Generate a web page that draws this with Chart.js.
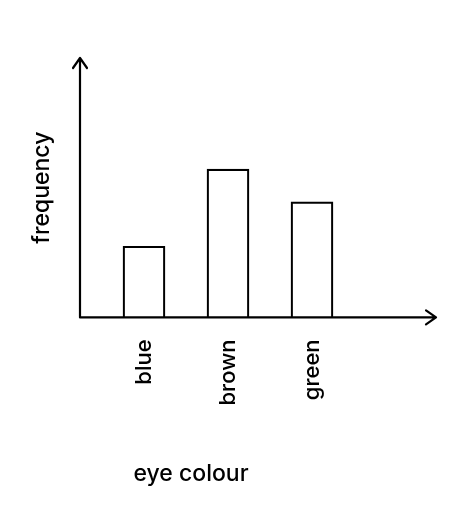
<!DOCTYPE html>
<html><head><meta charset="utf-8">
<script src="https://cdn.jsdelivr.net/npm/chart.js@4"></script>
<style>html,body{margin:0;padding:0;background:#fff}#w{width:474px;height:508px}</style>
</head><body><div id="w"><canvas id="c"></canvas></div>
<script>
const categories = ["blue", "brown", "green"];
const frequencies = [4.8, 10, 7.8];
const yMax = 17.5;

const arrows = {
  id: 'arrows',
  afterDraw(chart) {
    const ctx = chart.ctx, a = chart.chartArea;
    const x0 = a.left - 22, y0 = a.bottom, xEnd = a.right + 82, yTop = a.top;
    ctx.save();
    ctx.strokeStyle = '#000'; ctx.lineWidth = 2.2; ctx.lineCap = 'round'; ctx.lineJoin = 'round';
    ctx.beginPath();
    ctx.moveTo(x0, yTop); ctx.lineTo(x0, y0); ctx.lineTo(xEnd, y0);
    ctx.moveTo(x0 - 7, yTop + 10); ctx.lineTo(x0, yTop); ctx.lineTo(x0 + 7, yTop + 10);
    ctx.moveTo(xEnd - 10, y0 - 7); ctx.lineTo(xEnd, y0); ctx.lineTo(xEnd - 10, y0 + 7);
    ctx.stroke();
    ctx.restore();
  }
};

const F = { family: 'Inter', size: 23, weight: 500 };
new Chart(document.getElementById('c'), {
  type: 'bar',
  data: { labels: categories, datasets: [{ data: frequencies, backgroundColor: '#fff', borderColor: '#000', borderWidth: 2.2, barThickness: 42 }] },
  options: {
    responsive: true, maintainAspectRatio: false, animation: false,
    layout: { padding: { top: 58, right: 120, left: 28, bottom: 0 } },
    plugins: {
      legend: { display: false }, tooltip: { enabled: false },
      title: { display: true, position: 'bottom', text: 'eye colour', color: '#000', font: F, padding: { top: 30, bottom: 20 } }
    },
    scales: {
      x: {
        grid: { display: false }, border: { display: false },
        ticks: { color: '#000', font: { family: 'Inter', size: 22, weight: 500 }, minRotation: 90, maxRotation: 90, padding: 14 },
        afterFit(s) { s.height = 113; }
      },
      y: {
        min: 0, max: yMax,
        grid: { display: false }, border: { display: false },
        ticks: { display: false },
        title: { display: true, text: 'frequency', color: '#000', font: F, padding: { top: 0, bottom: 0 } },
        afterFit(s) { s.width = 74; }
      }
    }
  },
  plugins: [arrows]
});
</script></body></html>
